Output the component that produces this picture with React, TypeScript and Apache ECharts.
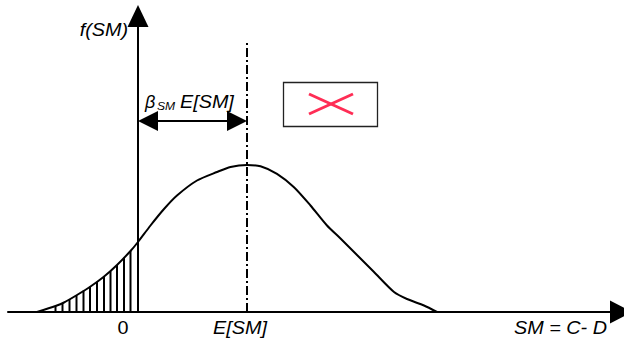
import React, { useEffect, useRef } from "react";
import * as echarts from "echarts";

// Curve of the safety-margin density f(SM) (x: SM, y: density; chart units)
const curveX = [-101, -82.5, -74, -61, -47.5, -34.5, -21, -7.5, 0, 12.5, 26, 39, 59, 79, 92.5, 109, 122.5, 139, 156, 172.5, 189, 202.5, 219, 236, 256, 269, 286, 299];
const curveY = [0, 6, 9.5, 17, 25.5, 35, 47, 61, 70, 86.5, 103, 116.5, 131.5, 140, 145, 147, 145.8, 138.2, 124.8, 106.5, 86.5, 73.5, 57, 40, 20, 13, 6.5, 0];

// Hatching below zero (failure region)
const hatchX = [-82.5, -75.5, -68.5, -61.5, -54.5, -48, -41, -34, -27.5, -21, -14, -7.5];
const hatchY = [6, 9, 13, 16.7, 21.4, 25.2, 30.3, 35.4, 40.8, 47, 54.3, 61];

// Mean of SM and annotations
const meanSM = 109;
const meanLineTop = 272;
const arrowLevel = 191;

const tickLabels = ["0", "E[SM]"];
const axisTitles = ["f(SM)", "SM = C- D"];

const FONT = "'Liberation Sans', Arial, sans-serif";

export default function App() {
  const ref = useRef<HTMLDivElement>(null);
  useEffect(() => {
    if (!ref.current) return;
    const chart = echarts.init(ref.current, null, { renderer: "svg" });
    const textStyle = (extra: any) => ({
      fontFamily: FONT,
      fontStyle: "italic",
      fontSize: 18,
      fill: "#000",
      verticalAlign: "middle",
      ...extra,
    });
    chart.setOption({
      animation: false,
      backgroundColor: "#fff",
      grid: { left: 8, right: 3, top: 16, bottom: 28 },
      xAxis: {
        type: "value",
        min: -130,
        max: 483,
        axisLine: {
          show: true,
          onZero: true,
          lineStyle: { color: "#000", width: 2 },
          symbol: ["none", "triangle"],
          symbolSize: [23, 22],
        },
        axisTick: { show: false },
        axisLabel: { show: false },
        splitLine: { show: false },
      },
      yAxis: {
        type: "value",
        min: 0,
        max: 296,
        axisLine: {
          show: true,
          onZero: true,
          lineStyle: { color: "#000", width: 2 },
          symbol: ["none", "triangle"],
          symbolSize: [21, 22],
        },
        axisTick: { show: false },
        axisLabel: { show: false },
        splitLine: { show: false },
      },
      series: [
        {
          type: "bar",
          data: hatchX.map((x, i) => [x, hatchY[i]]),
          barWidth: 2,
          itemStyle: { color: "#000" },
          silent: true,
          z: 1,
          markLine: {
            silent: true,
            symbol: ["triangle", "triangle"],
            symbolSize: [20, 20],
            label: { show: false },
            lineStyle: { color: "#000", width: 2, type: "solid" },
            data: [[{ coord: [10, arrowLevel] }, { coord: [meanSM - 10, arrowLevel] }]],
          },
        },
        {
          type: "line",
          data: curveX.map((x, i) => [x, curveY[i]]),
          smooth: 0.25,
          showSymbol: false,
          lineStyle: { color: "#000", width: 2 },
          silent: true,
          z: 3,
          markLine: {
            silent: true,
            symbol: ["none", "none"],
            label: { show: false },
            lineStyle: { color: "#000", width: 2, type: [9, 3, 2, 3] },
            data: [[{ coord: [meanSM, 0] }, { coord: [meanSM, meanLineTop] }]],
          },
        },
      ],
      graphic: [
        { type: "text", x: 128, y: 30, scaleX: 1.1, style: textStyle({ text: axisTitles[0], align: "right" }) },
        { type: "text", x: 607, y: 328, scaleX: 1.1, style: textStyle({ text: axisTitles[1], align: "right" }) },
        { type: "text", x: 123, y: 327.5, scaleX: 1.1, style: textStyle({ text: tickLabels[0], align: "center", fontStyle: "normal" }) },
        { type: "text", x: 240, y: 327.5, scaleX: 1.1, style: textStyle({ text: tickLabels[1], align: "center" }) },
        { type: "text", x: 145, y: 101.5, style: textStyle({ text: "β", align: "left" }) },
        { type: "text", x: 157, y: 106, scaleX: 1.1, style: textStyle({ text: "SM", align: "left", fontSize: 11 }) },
        { type: "text", x: 180, y: 101.5, scaleX: 1.1, style: textStyle({ text: "E[SM]", align: "left" }) },
        {
          type: "rect",
          shape: { x: 283.5, y: 82.5, width: 94, height: 44 },
          style: { fill: "#fff", stroke: "#222", lineWidth: 1.3 },
        },
        {
          type: "line",
          shape: { x1: 309, y1: 94, x2: 353, y2: 114 },
          style: { stroke: "#ff2d55", lineWidth: 3 },
        },
        {
          type: "line",
          shape: { x1: 309, y1: 114, x2: 353, y2: 94 },
          style: { stroke: "#ff2d55", lineWidth: 3 },
        },
      ],
    });
    return () => chart.dispose();
  }, []);
  return <div ref={ref} style={{ position: "fixed", left: 0, top: 0, width: 624, height: 340 }} />;
}
